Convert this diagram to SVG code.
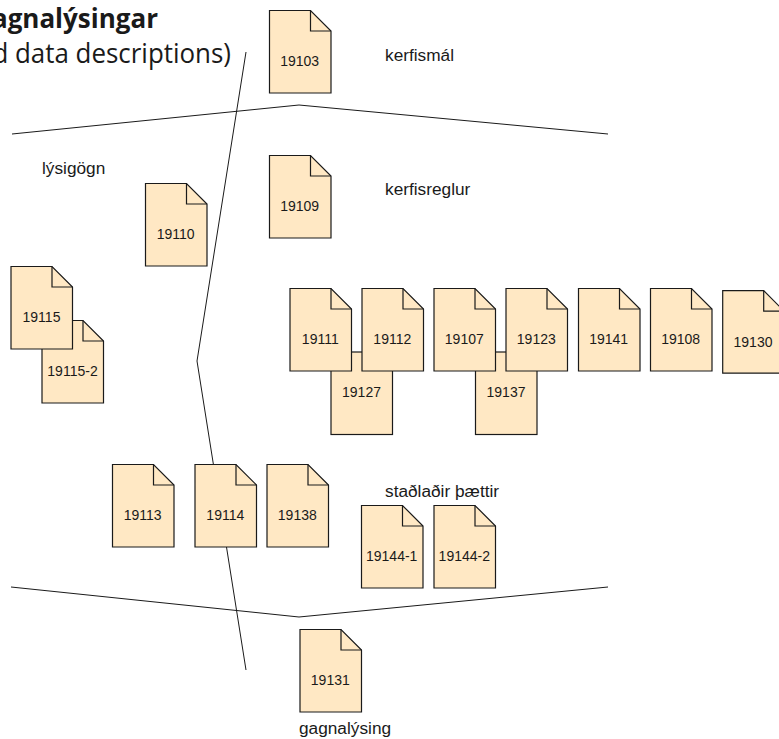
<svg xmlns="http://www.w3.org/2000/svg" width="779" height="739" viewBox="0 0 779 739">
<style>
.l{fill:none;stroke:#1a1a1a;stroke-width:1}
.b{fill:#ffe8c4;stroke:#1a1a1a;stroke-width:1.2}
.f{fill:none;stroke:#1a1a1a;stroke-width:1.2}
text{font-family:"Liberation Sans",Arial,sans-serif;font-size:14px;fill:#1a1a1a}
.n{text-anchor:middle}
.c{font-size:17.25px}
.t{font-family:"Open Sans","Noto Sans",sans-serif;text-anchor:end}
</style>
<defs>
<g id="doc">
<path class="b" d="M0.5 0.5H41.5L62 21V83H0.5Z"/>
<path class="f" d="M41.5 0.5V21H62"/>
</g>
<rect id="back" class="b" x="0.5" y="0.5" width="61.5" height="82.5"/>
</defs>
<rect width="779" height="739" fill="#fff"/>
<g id="connectors">
<polyline class="l" points="12,134 299,105 608,134"/>
<polyline class="l" points="11,587 299,617 608,587"/>
<polyline class="l" points="246,52 197,361 246,670"/>
</g>
<g id="title">
<text class="t" transform="translate(158 28) scale(1 1)" style="font-size:26px;font-weight:700">gagnalýsingar</text>
<text class="t" transform="translate(231 63) scale(.96 1)" style="font-size:27px">d data descriptions)</text>
</g>
<g id="n19103"><use href="#doc" x="269" y="10"/><text class="n" x="299.7" y="66">19103</text></g>
<g id="n19109"><use href="#doc" x="269" y="155"/><text class="n" x="299.7" y="211">19109</text></g>
<g id="n19110"><use href="#doc" x="145" y="183"/><text class="n" x="175.7" y="239">19110</text></g>
<g id="n19115-2"><use href="#doc" x="41.5" y="320"/><text class="n" x="72.5" y="376">19115-2</text></g>
<g id="n19115"><use href="#doc" x="10.5" y="266"/><text class="n" x="41.5" y="322">19115</text></g>
<g id="n19127"><use href="#back" x="330.5" y="351.5"/><text class="n" x="361.5" y="397">19127</text></g>
<g id="n19137"><use href="#back" x="475" y="351.5"/><text class="n" x="506" y="397">19137</text></g>
<g id="n19111"><use href="#doc" x="289.5" y="288"/><text class="n" x="320.3" y="344">19111</text></g>
<g id="n19112"><use href="#doc" x="361.5" y="288"/><text class="n" x="392.3" y="344">19112</text></g>
<g id="n19107"><use href="#doc" x="433.5" y="288"/><text class="n" x="464.3" y="344">19107</text></g>
<g id="n19123"><use href="#doc" x="505.5" y="288"/><text class="n" x="536.3" y="344">19123</text></g>
<g id="n19141"><use href="#doc" x="578" y="288"/><text class="n" x="608.7" y="344">19141</text></g>
<g id="n19108"><use href="#doc" x="650" y="288"/><text class="n" x="680.7" y="344">19108</text></g>
<g id="n19130"><use href="#doc" x="722.2" y="290.2"/><text class="n" x="753" y="347">19130</text></g>
<g id="n19113"><use href="#doc" x="112" y="464"/><text class="n" x="142.7" y="520">19113</text></g>
<g id="n19114"><use href="#doc" x="194.5" y="464"/><text class="n" x="225.3" y="520">19114</text></g>
<g id="n19138"><use href="#doc" x="266.5" y="464"/><text class="n" x="297.3" y="520">19138</text></g>
<g id="n19144-1"><use href="#doc" x="361" y="505"/><text class="n" x="391.7" y="561">19144-1</text></g>
<g id="n19144-2"><use href="#doc" x="433.5" y="505"/><text class="n" x="464.3" y="561">19144-2</text></g>
<g id="n19131"><use href="#doc" x="299.5" y="629"/><text class="n" x="330.3" y="685">19131</text></g>
<g id="labels">
<text class="c" x="385" y="61">kerfismál</text>
<text class="c" x="42" y="174">lýsigögn</text>
<text class="c" x="385" y="195">kerfisreglur</text>
<text class="c" x="385" y="497">staðlaðir þættir</text>
<text class="c" x="299" y="734">gagnalýsing</text>
</g>
</svg>
